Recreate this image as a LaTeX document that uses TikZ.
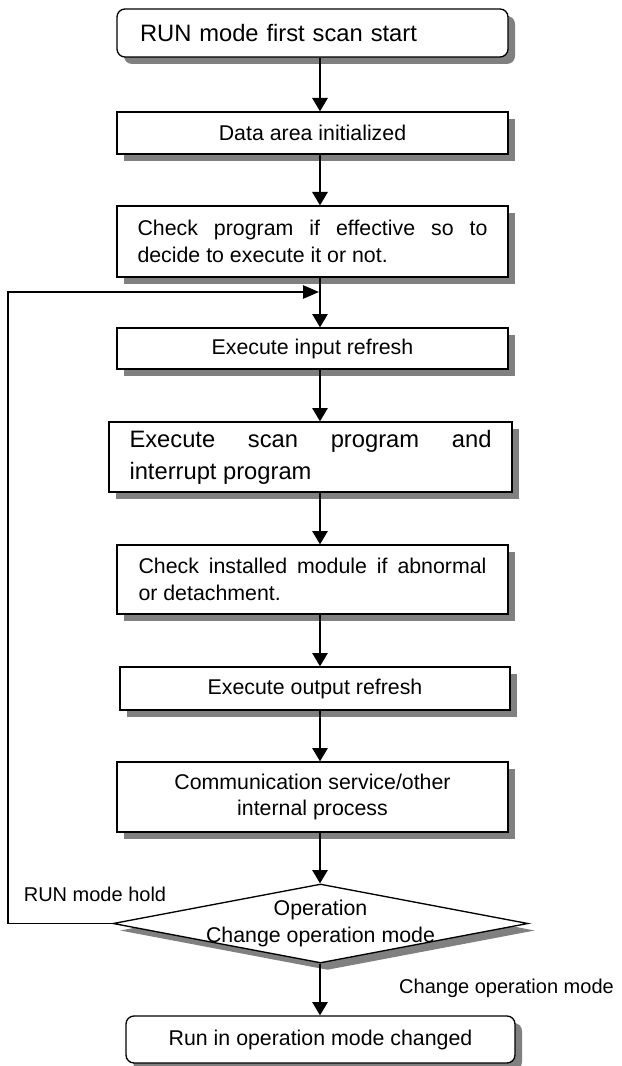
\documentclass[tikz,border=0pt]{standalone}
\usepackage{fontspec}
\setmainfont{Liberation Sans}
\usetikzlibrary{arrows.meta,shapes.geometric,shadows}
\hyphenpenalty=10000
\tolerance=10000

\begin{document}
\begin{tikzpicture}[x=0.75pt, y=-0.75pt,
    stepbox/.style={draw, line width=1pt, fill=white, inner sep=0pt,
        drop shadow={shadow xshift=5.25pt, shadow yshift=-5.25pt, fill=black!50, opacity=1}},
    startbox/.style={stepbox, rounded corners=6pt},
    decision/.style={stepbox, diamond, minimum width=311.25pt, minimum height=59.25pt},
    txt/.style={font=\fontsize{16pt}{20pt}\selectfont},
    bigtxt/.style={font=\fontsize{17.8pt}{24pt}\selectfont},
    lbl/.style={font=\fontsize{15pt}{18pt}\selectfont, inner sep=0pt},
    flow/.style={line width=1.5pt, -{Triangle[length=10pt, width=11.5pt]}},
    backflow/.style={line width=1.2pt, -{Triangle[length=12pt, width=10pt]}}]
    \useasboundingbox (0,0) rectangle (621,1066);

    % Scan steps
    \node[startbox, bigtxt, text width=258.75pt, align=left, minimum width=293.25pt, minimum height=36pt] (start) at (312.5,33) {RUN mode first scan start};
    \node[stepbox, txt, minimum width=293.25pt, minimum height=31.5pt] (init) at (312.5,133) {Data area initialized};
    \node[stepbox, txt, text width=262.5pt, align=justify, minimum width=293.25pt, minimum height=53.25pt] (check) at (312.5,241.5) {Check program if effective so to\linebreak decide to execute it or not.};
    \node[stepbox, txt, minimum width=293.25pt, minimum height=30.75pt] (inref) at (312.5,348.5) {Execute input refresh};
    \node[stepbox, bigtxt, text width=271.5pt, align=justify, minimum width=302.25pt, minimum height=52.5pt] (scan) at (310.5,457) {Execute scan program and\linebreak interrupt program};
    \node[stepbox, txt, text width=261pt, align=justify, minimum width=293.25pt, minimum height=51.75pt] (module) at (312.5,579.5) {Check installed module if abnormal\linebreak or detachment.};
    \node[stepbox, txt, minimum width=292.5pt, minimum height=32.25pt] (outref) at (315,688.5) {Execute output refresh};
    \node[stepbox, txt, align=center, minimum width=293.25pt, minimum height=52.5pt] (comm) at (312.5,797) {Communication service/other\\internal process};

    % Mode decision
    \node[decision] (mode) at (320.5,923.5) {};
    \node[txt, align=center] (modetxt) at (mode.center) {Operation\\Change operation mode};
    \node[startbox, txt, minimum width=291.75pt, minimum height=35.25pt] (runchg) at (320.5,1039.5) {Run in operation mode changed};

    % Branch labels
    \node[lbl] (hold) at (95,894) {RUN mode hold};
    \node[lbl] (chglbl) at (506.5,988) {Change operation mode};

    % Main flow
    \coordinate (spine) at (320,0);
    \foreach \a/\b in {start/init, init/check, check/inref, inref/scan, scan/module, module/outref, outref/comm, comm/mode, mode/runchg} {
        \draw[flow] (\a.south -| spine) -- (\b.north -| spine);
    }

    % Return loop
    \coordinate (back) at (8,292);
    \coordinate (loopin) at (319,292);
    \draw[backflow] (mode.west) -| (back) -- (loopin);
\end{tikzpicture}
\end{document}
